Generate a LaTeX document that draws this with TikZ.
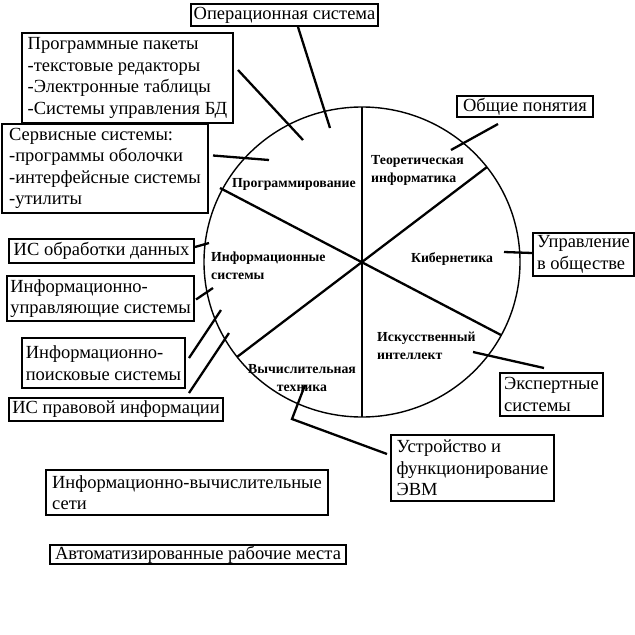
\documentclass[tikz,border=0pt]{standalone}
\usepackage{fontspec}
\setmainfont{Liberation Serif}
\usetikzlibrary{calc}
\tikzset{
  box/.style={draw, line width=2pt, inner xsep=2pt, inner ysep=0pt, align=left,
    font=\fontsize{18.5}{21.5}\selectfont, anchor=north west},
  lbl/.style={font=\bfseries\fontsize{13.8}{18}\selectfont, inner sep=0pt},
  conn/.style={line width=2.3pt},
  radial/.style={line width=2.3pt},
}
\begin{document}
\begin{tikzpicture}[x=1pt,y=-1pt]
\useasboundingbox (0,0) rectangle (635,635);
% circle
\coordinate (O) at (362,262);
\draw[line width=1.4pt] (O) ellipse [x radius=158pt, y radius=155pt];
\coordinate (vt) at (362,107);
\coordinate (vb) at (362,417);
\coordinate (a1) at (487,167);
\coordinate (a2) at (237,357);
\coordinate (b1) at (220,188);
\coordinate (b2) at (501,335);
\draw[radial] (vt) -- (vb);
\draw[radial] (a1) -- (a2);
\draw[radial] (b1) -- (b2);
% sector labels
\node[lbl] (lprog) at (294,184) {Программирование};
\node[lbl, anchor=west, align=left] (ltheor) at (371,170) {Теоретическая\\информатика};
\node[lbl] (lkib) at (452,259) {Кибернетика};
\node[lbl, anchor=west, align=left] (lai) at (377,346) {Искусственный\\интеллект};
\node[lbl, align=center] (lvych) at (302,378) {Вычислительная\\техника};
\node[lbl, anchor=west, align=left] (linf) at (211,266) {Информационные\\системы};
% boxes
\node[box, minimum width=187pt, minimum height=22pt] (ops) at (190,3) {Операционная система};
\node[box, minimum width=211pt, minimum height=90pt] (prog) at (21,32) {Программные пакеты\\-текстовые редакторы\\-Электронные таблицы\\-Системы управления БД};
\node[box, minimum width=206pt, minimum height=89pt] (serv) at (1,123) {Сервисные системы:\\-программы оболочки\\-интерфейсные системы\\-утилиты};
\node[box, minimum width=185pt, minimum height=24pt] (isod) at (8,238) {ИС обработки данных};
\node[box, minimum width=187pt, minimum height=45pt] (ius) at (6,275) {Информационно-\\управляющие системы};
\node[box, minimum width=163pt, minimum height=50pt] (ips) at (21,337) {Информационно-\\поисковые системы};
\node[box, minimum width=214pt, minimum height=23pt] (isp) at (8,397) {ИС правовой информации};
\node[box, minimum width=136pt, minimum height=21pt] (gen) at (456,95) {Общие понятия};
\node[box, minimum width=101pt, minimum height=43pt] (upr) at (532,232) {Управление\\в обществе};
\node[box, minimum width=103pt, minimum height=43pt] (exp) at (499,372) {Экспертные\\системы};
\node[box, minimum width=163pt, minimum height=66pt] (ustr) at (390,434) {Устройство и\\функционирование\\ЭВМ};
\node[box, minimum width=282pt, minimum height=45pt] (ivs) at (45,469) {Информационно-вычислительные\\сети};
\node[box, minimum width=296pt, minimum height=19pt] (arm) at (49,544) {Автоматизированные рабочие места};
% connector free ends
\coordinate (eops) at (330,128);
\coordinate (eprog) at (303,140);
\coordinate (eserv) at (269,160);
\coordinate (eisod) at (209,243);
\coordinate (eius) at (213,288);
\coordinate (eips) at (221,310);
\coordinate (eisp) at (229,333);
\coordinate (egen) at (451,150);
\coordinate (eupr) at (504,252);
\coordinate (eexp) at (473,352);
\coordinate (kustr) at (292,419);
\coordinate (eustr) at (305,385);
% connectors
\draw[conn] ($(ops.south)+(13.5,0)$) -- (eops);
\draw[conn] ($(prog.east)+(4,-8)$) -- (eprog);
\draw[conn] ($(serv.east)+(4,-13)$) -- (eserv);
\draw[conn] ($(isod.east)+(0,-4)$) -- (eisod);
\draw[conn] ($(ius.east)+(1,1)$) -- (eius);
\draw[conn] ($(ips.east)+(3,-5)$) -- (eips);
\draw[conn] ($(isp.north east)+(-35,-4)$) -- (eisp);
\draw[conn] ($(gen.south)+(-27,6)$) -- (egen);
\draw[conn] ($(upr.west)+(0,-1.5)$) -- (eupr);
\draw[conn] ($(exp.north)+(-7.5,-4)$) -- (eexp);
\draw[conn] ($(ustr.west)+(-3,-14)$) -- (kustr) -- (eustr);
\end{tikzpicture}
\end{document}
